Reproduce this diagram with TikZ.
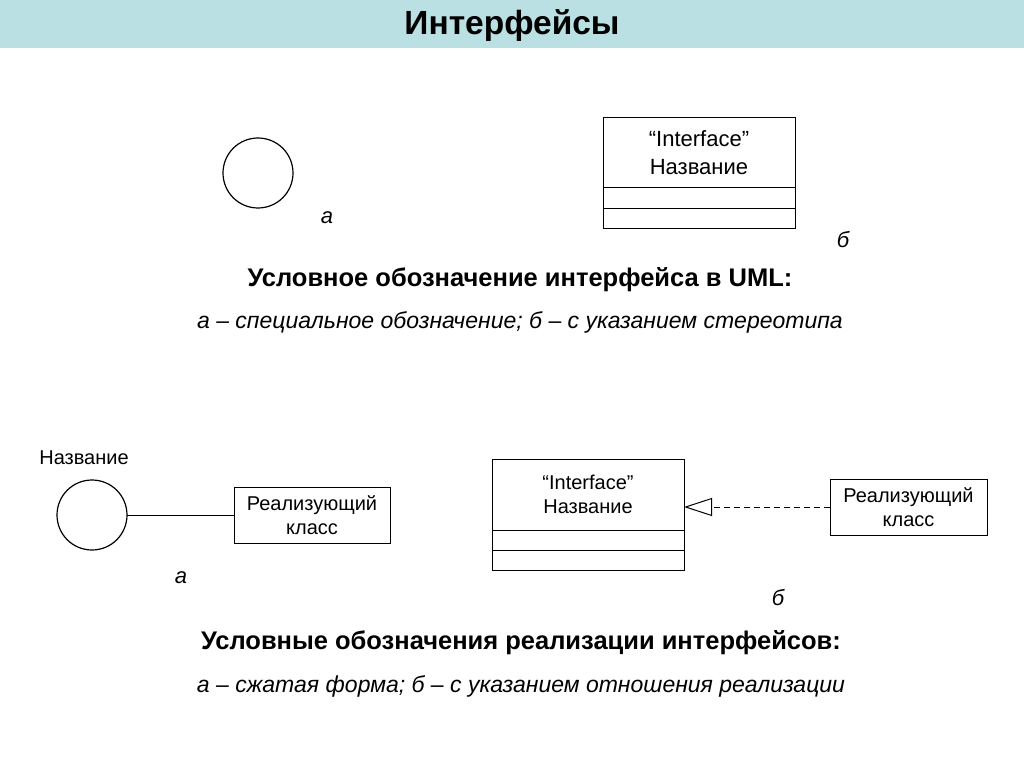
\documentclass[tikz,border=0pt]{standalone}
\usepackage{fontspec}
\setmainfont{Liberation Sans}
\usetikzlibrary{arrows.meta}
\definecolor{titlebg}{HTML}{BAE0E3}
\tikzset{
  box/.style={draw, line width=1pt, inner sep=0pt, outer sep=0pt, align=center, font=\fontsize{20}{24}\selectfont},
  bigbox/.style={box, font=\fontsize{22}{28}\selectfont},
  iface/.style={draw, circle, line width=1.2pt, inner sep=0pt, outer sep=0pt, minimum size=70pt},
  lbl/.style={font=\fontsize{22}{26}\selectfont\itshape},
  head/.style={font=\fontsize{25.5}{30}\selectfont\bfseries},
  sub/.style={font=\fontsize{23}{27}\selectfont\itshape},
  conn/.style={line width=1pt}
}
\begin{document}
\begin{tikzpicture}[x=1pt,y=-1pt]
\useasboundingbox (0,0) rectangle (1024,767);
\fill[white] (0,0) rectangle (1024,767);
\fill[titlebg] (0,0) rectangle (1024,48);
\node[font=\fontsize{33.5}{40}\selectfont\bfseries] (title) at (512,26) {Интерфейсы};

% top part
\node[iface] (c1) at (258,173) {};
\node[lbl] (la1) at (327,218) {а};
\node[bigbox, anchor=north west, minimum width=192pt, minimum height=70pt] (ib1) at (603,118) {“Interface”\\Название};
\node[box, anchor=north, minimum width=192pt, minimum height=21pt] (ib1a) at (ib1.south) {};
\node[box, anchor=north, minimum width=192pt, minimum height=20pt] (ib1b) at (ib1a.south) {};
\node[lbl] (lb1) at (843,240) {б};
\node[head] (h1) at (520,280) {Условное обозначение интерфейса в UML:};
\node[sub] (s1) at (520,322) {а – специальное обозначение; б – с указанием стереотипа};

% bottom left
\node[font=\fontsize{20}{24}\selectfont] (nm) at (84,458) {Название};
\node[iface] (c2) at (92,515) {};
\node[box, anchor=north west, minimum width=156pt, minimum height=56pt] (rc1) at (234,487) {Реализующий\\класс};
\draw[conn] (c2.east) -- (c2.east -| rc1.west);
\node[lbl] (la2) at (181,578) {а};

% bottom right
\node[box, anchor=north west, minimum width=192pt, minimum height=71pt] (ib2) at (492,459) {“Interface”\\Название};
\node[box, anchor=north, minimum width=192pt, minimum height=20pt] (ib2a) at (ib2.south) {};
\node[box, anchor=north, minimum width=192pt, minimum height=20pt] (ib2b) at (ib2a.south) {};
\node[box, anchor=north west, minimum width=157pt, minimum height=56pt] (rc2) at (830,479) {Реализующий\\класс};
\draw[conn, dash pattern=on 6pt off 4pt, -{Triangle[open, length=28pt, width=18pt, line width=1pt]}] (rc2.west |- 0,507) -- (ib2.east |- 0,507);
\node[lbl] (lb2) at (778,598) {б};
\node[head] (h2) at (521,643) {Условные обозначения реализации интерфейсов:};
\node[sub] (s2) at (521,686) {а – сжатая форма; б – с указанием отношения реализации};
\end{tikzpicture}
\end{document}
